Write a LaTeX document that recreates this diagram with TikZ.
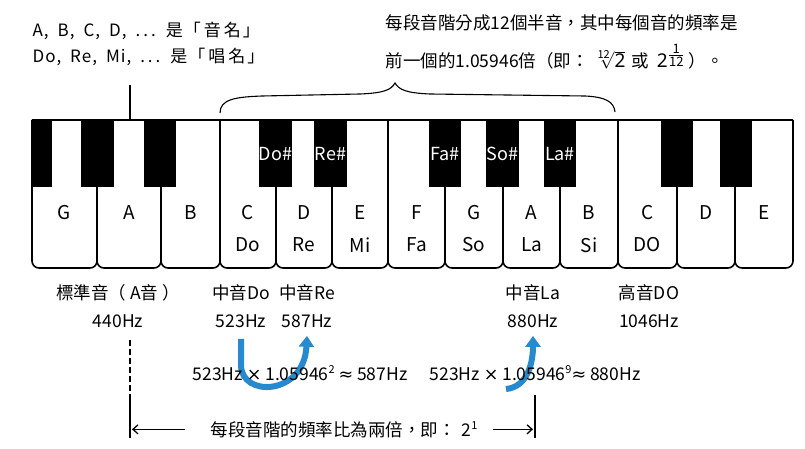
\documentclass[tikz,border=0pt]{standalone}
\usepackage{amsmath}
\usepackage{fontspec}
\setmainfont{Noto Sans CJK TC}
\newfontfamily\latinfont{Noto Sans}
\newfontfamily\symfont{DejaVu Sans}
\usetikzlibrary{arrows.meta, positioning}
\definecolor{arrowblue}{RGB}{38,138,206}
\newcommand{\supnum}[1]{\raisebox{7pt}{\fontsize{11}{11}\selectfont #1}}
\newcommand{\ngap}{\hspace{9pt}}
\newcommand{\fracnum}[1]{\text{\fontsize{13}{13}\selectfont #1}}

\begin{document}
\begin{tikzpicture}[x=1pt, y=-1pt, >={Straight Barb[length=5pt,width=9pt]}, line width=1.3pt,
    keyline/.style={line width=1.6pt, rounded corners=7pt},
    blackkey/.style={fill=black, draw=black, minimum height=66pt, minimum width=31pt, inner sep=0pt, anchor=north},
    keyname/.style={font=\fontsize{19}{19}\selectfont},
    sharpname/.style={text=white, font=\fontsize{18}{18}\selectfont, inner sep=0pt},
    lbl/.style={font=\fontsize{17.5}{17.5}\selectfont, anchor=base, inner sep=2pt},
    note/.style={font=\fontsize{17}{17}\selectfont\addfontfeatures{LetterSpace=6}, anchor=base west, inner sep=0pt},
    bluearrow/.style={arrowblue, line width=6pt, -{Triangle[width=15pt,length=11pt]}}]
    \fill[white] (0,0) rectangle (805,449);
    \useasboundingbox (0,0) rectangle (805,449);

    % white keys
    \foreach \xl/\xr/\nm/\sol [count=\i] in {32/97/G/{}, 97/161/A/{}, 161/220/B/{}, 220/276/C/Do, 276/332/D/Re, 332/388/E/Mi, 388/445/F/Fa, 445/503/G/So, 503/560/A/La, 560/618/B/Si, 618/677/C/DO, 677/735/D/{}, 735/793/E/{}}{
        \draw[keyline] (\xl,120) -- (\xl,268) -- (\xr,268) -- (\xr,120);
        \node[keyname] (n\i) at ({(\xl+\xr)/2},213) {\nm};
        \node[keyname] (s\i) at ({(\xl+\xr)/2},245) {\sol};
    }
    \draw[line width=1.6pt] (32,120) -- (793,120);

    % black keys
    \node[blackkey, minimum width=19pt] (b0) at (42,120) {};
    \foreach \xc [count=\j] in {97.5, 160, 275.5, 330.5, 445, 502.5, 560, 677, 736}
        \node[blackkey] (b\j) at (\xc,120) {};
    \foreach \j/\nm in {3/Do\#, 4/Re\#, 5/Fa\#, 6/So\#, 7/La\#}
        \node[sharpname] (h\j) at (b\j) {\nm};

    % notes at the top
    \node[note] (pitch) at (32,37) {A,\ngap B,\ngap C,\ngap D,\ngap .\hspace{3pt}.\hspace{3pt}.\hspace{10pt}是「\hspace{3pt}音\hspace{3pt}名\hspace{2pt}」};
    \node[note] (solfa) at (32,63) {Do,\ngap Re,\ngap Mi,\ngap .\hspace{3pt}.\hspace{3pt}.\hspace{10pt}是「\hspace{3pt}唱\hspace{3pt}名\hspace{2pt}」};
    \coordinate (topA) at (130,120);
    \draw (topA) -- ++(0,-35);

    \node[lbl, anchor=base west, inner sep=0pt] (semi1) at (385,30) {每段音階分成12個半音，其中每個音的頻率是};
    \node[lbl, anchor=base west, inner sep=0pt] (semi2) at (385,68) {前一個的1.05946倍（即：\hspace{4pt}$\sqrt[\text{\fontsize{11}{11}\selectfont 12}]{\text{\fontsize{19}{19}\selectfont\latinfont 2}}$\hspace{6pt}或\hspace{8pt}{\fontsize{19}{19}\selectfont\latinfont 2}\raisebox{8pt}{$\frac{\fracnum{1}}{\fracnum{12}}$}\hspace{4pt}）。};

    % brace over one octave
    \draw[line width=1.1pt] (220,113) .. controls (220,99) and (236,97) .. (262,96) -- (360,94)
        .. controls (384,93) and (391,90) .. (395,83) .. controls (399,90) and (407,93) .. (430,94)
        -- (585,96) .. controls (606,97) and (614,102) .. (615,112);

    % frequencies
    \node[lbl] (stdA) at (118,299) {標準音（ A音 ）};
    \node[lbl] (hzA) at (118,327) {440Hz};
    \node[lbl] (midDo) at (241,299) {中音Do};
    \node[lbl] (hzDo) at (241,327) {523Hz};
    \node[lbl] (midRe) at (307,299) {中音Re};
    \node[lbl] (hzRe) at (307,327) {587Hz};
    \node[lbl] (midLa) at (533,299) {中音La};
    \node[lbl] (hzLa) at (533,327) {880Hz};
    \node[lbl] (highDo) at (649,299) {高音DO};
    \node[lbl] (hzHi) at (649,327) {1046Hz};

    % blue arrows
    \coordinate (laStart) at (506,389);
    \draw[bluearrow] ([yshift=-9pt]hzDo.south) -- ++(0,26) .. controls +(0,33) and +(-3,60) .. ([yshift=-6pt]hzRe.south);
    \draw[bluearrow] (laStart) .. controls +(22,-2) and +(0,26) .. ([yshift=-6pt]hzLa.south);

    \node[lbl] (calcRe) at (300,380) {523Hz {\symfont ×} 1.05946\supnum{2} {\symfont ≈} 587Hz};
    \node[lbl] (calcLa) at (535,380) {523Hz {\symfont ×} 1.05946\supnum{9}{\symfont ≈} 880Hz};

    % octave marks
    \coordinate (dashTop) at (130,340);
    \coordinate (dashEnd) at (130,400);
    \coordinate (lineEnd) at (130,438);
    \coordinate (laTop) at (535,395);
    \coordinate (laEnd) at (535,438);
    \draw[dash pattern=on 6pt off 3pt] (dashTop) -- (dashEnd);
    \draw (dashEnd) -- (lineEnd);
    \draw (laTop) -- (laEnd);
    \node[lbl] (octave) at (344,436) {每段音階的頻率比為兩倍，即：\hspace{6pt}2\supnum{1}};
    \draw[->] ([xshift=-23pt]octave.west) -- ([xshift=2pt]octave.west -| lineEnd);
    \draw[->] ([xshift=13pt]octave.east) -- ([xshift=-2pt]octave.east -| laEnd);
\end{tikzpicture}
\end{document}
